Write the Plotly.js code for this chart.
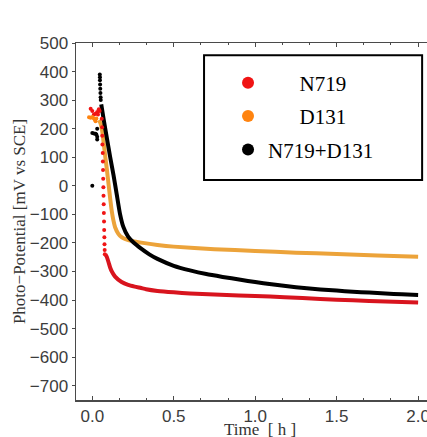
<!DOCTYPE html>
<html>
<head>
<meta charset="utf-8">
<script src="https://cdn.plot.ly/plotly-3.0.1.min.js"></script>
<style>
  html, body { margin: 0; padding: 0; overflow: hidden; background: #fff; }
  #chart { width: 445px; height: 437px; }
</style>
</head>
<body>
<div id="chart"></div>
<script>
// Photo-potential (mV vs SCE) against time (h) under illumination.

// N719: early scattered readings, then the continuous decay
const n719DotsT = [-0.01, 0.0, 0.01, 0.02, 0.03, 0.035, 0.04, 0.045,
  0.058, 0.060, 0.061, 0.062, 0.064, 0.065, 0.066, 0.067, 0.068, 0.069, 0.070, 0.071, 0.072, 0.073, 0.074, 0.075, 0.076, 0.077];
const n719DotsV = [270, 262, 250, 252, 258, 250, 268, 262,
  235, 205, 175, 145, 115, 85, 55, 25, -5, -35, -65, -95, -125, -155, -180, -205, -225, -240];
const n719T = [0.08, 0.09, 0.10, 0.11, 0.12, 0.14, 0.18, 0.22, 0.26, 0.30, 0.33, 0.40, 0.50, 0.60, 0.75, 0.90, 1.00, 1.18, 1.40, 1.60, 1.80, 2.00];
const n719V = [-240, -250, -268, -287, -300, -318, -337, -347, -353, -358, -362, -368, -373, -377, -381, -384, -386, -390, -396, -401, -405, -409];

// D131
const d131DotsT = [-0.02, -0.01, 0.0, 0.01, 0.015, 0.02, 0.025];
const d131DotsV = [240, 238, 241, 236, 232, 226, 236];
const d131T = [0.04, 0.05, 0.06, 0.07, 0.08, 0.09, 0.10, 0.11, 0.12, 0.13, 0.14, 0.16, 0.18, 0.20, 0.25, 0.30, 0.40, 0.50, 0.75, 1.00, 1.25, 1.50, 1.75, 2.00];
const d131V = [230, 220, 195, 150, 100, 55, 5, -45, -90, -122, -145, -168, -180, -186, -194, -199, -207, -213, -222, -228, -234, -239, -244, -248];

// N719+D131
const mixDotsT = [0.0, 0.0, 0.01, 0.02, 0.025, 0.03, 0.03, 0.03,
  0.046, 0.047, 0.047, 0.048, 0.049, 0.050, 0.051, 0.052];
const mixDotsV = [0, 185, 183, 182, 180, 200, 172, 162,
  390, 380, 370, 355, 340, 325, 310, 300];
const mixT = [0.055, 0.07, 0.09, 0.11, 0.13, 0.15, 0.17, 0.19, 0.22, 0.25, 0.30, 0.35, 0.40, 0.50, 0.60, 0.70, 0.80, 0.91, 1.00, 1.10, 1.20, 1.30, 1.40, 1.50, 1.60, 1.70, 1.80, 1.90, 2.00];
const mixV = [285, 232, 165, 100, 38, -30, -98, -143, -178, -197, -220, -240, -256, -280, -296, -309, -319, -329, -337, -345, -352, -358, -363, -367, -371, -374, -377, -380, -382];

const seriesNames = ['N719', 'D131', 'N719+D131'];
const legendLabels = ['\u00A0\u00A0\u00A0\u00A0\u00A0\u00A0N719', '\u00A0\u00A0\u00A0\u00A0\u00A0\u00A0D131', 'N719+D131'];
const markColors = ['#f01414', '#ff8410', '#000000'];
const lineColors = ['#d8141e', '#eca33a', '#000000'];

const dotsT = [n719DotsT, d131DotsT, mixDotsT];
const dotsV = [n719DotsV, d131DotsV, mixDotsV];
const lineT = [n719T, d131T, mixT];
const lineV = [n719V, d131V, mixV];

const traces = [];
for (let i = 0; i < 3; i++) {
  traces.push({
    x: lineT[i], y: lineV[i], type: 'scatter', mode: 'lines',
    line: { color: lineColors[i], width: 4, shape: 'spline', smoothing: 0.5 },
    showlegend: false, hoverinfo: 'skip', name: seriesNames[i]
  });
}
for (let i = 0; i < 3; i++) {
  traces.push({
    x: dotsT[i], y: dotsV[i], type: 'scatter', mode: 'markers',
    marker: { color: markColors[i], size: 4 },
    name: legendLabels[i], legendgroup: 'g' + i, showlegend: true
  });
}

const axisColor = '#4a4a4a';
const tickFont = { family: 'Liberation Sans, Arial, sans-serif', size: 17, color: '#3c3c3c' };
const serif = 'Liberation Serif, Times New Roman, serif';

const layout = {
  width: 445, height: 437,
  margin: { l: 76, r: 0, t: 43, b: 37 },
  paper_bgcolor: '#fff', plot_bgcolor: '#fff',
  showlegend: true,
  legend: {
    x: 0.412, y: 0.945, xanchor: 'left', yanchor: 'top',
    bgcolor: 'rgba(0,0,0,0)', borderwidth: 0,
    font: { family: serif, size: 21, color: '#000' },
    itemsizing: 'constant', traceorder: 'grouped', tracegroupgap: 3
  },
  xaxis: {
    range: [-0.1, 2.165], tick0: 0, dtick: 0.5, tickformat: '.1f',
    showgrid: false, zeroline: false,
    showline: true, linecolor: axisColor, linewidth: 1.5, mirror: 'ticks',
    ticks: 'inside', ticklen: 4, tickcolor: axisColor, tickwidth: 1,
    minor: { tick0: 0, dtick: 1 / 6, ticks: 'inside', ticklen: 2, tickcolor: axisColor },
    tickfont: tickFont
  },
  yaxis: {
    range: [-750, 500], tick0: 0, dtick: 100,
    showgrid: false, zeroline: false,
    showline: true, linecolor: axisColor, linewidth: 1.5, mirror: 'ticks',
    ticks: 'outside', ticklen: 3, tickcolor: axisColor,
    tickfont: tickFont,
    title: { text: 'Photo\u2212Potential [mV vs SCE]', font: { family: serif, size: 17, color: '#333' }, standoff: 0 }
  },
  shapes: [
    { type: 'rect', xref: 'paper', yref: 'paper', x0: 0.347, x1: 0.938, y0: 0.616, y1: 0.966,
      line: { color: '#000', width: 2 }, fillcolor: 'rgba(0,0,0,0)' }
  ],
  annotations: [
    { x: 1.97, y: 512, xref: 'x', yref: 'y', ax: 0.018, ay: 512, axref: 'x', ayref: 'y',
      text: '', showarrow: true, arrowside: 'end+start', arrowhead: 2, arrowsize: 1.6, arrowwidth: 1.6, arrowcolor: '#111' },
    { x: 0.91, y: 565, xref: 'x', yref: 'y', text: 'Light ON', showarrow: false,
      font: { family: serif, size: 17, color: '#333' } },
    // x-axis title, set just below the tick labels
    { x: 0.4986, y: -0.05, xref: 'paper', yref: 'paper', xanchor: 'center', yanchor: 'top',
      text: 'Time  [ h ]', showarrow: false, font: { family: serif, size: 17, color: '#333' } }
  ]
};

Plotly.newPlot('chart', traces, layout, { staticPlot: true, displayModeBar: false });
</script>
</body>
</html>
